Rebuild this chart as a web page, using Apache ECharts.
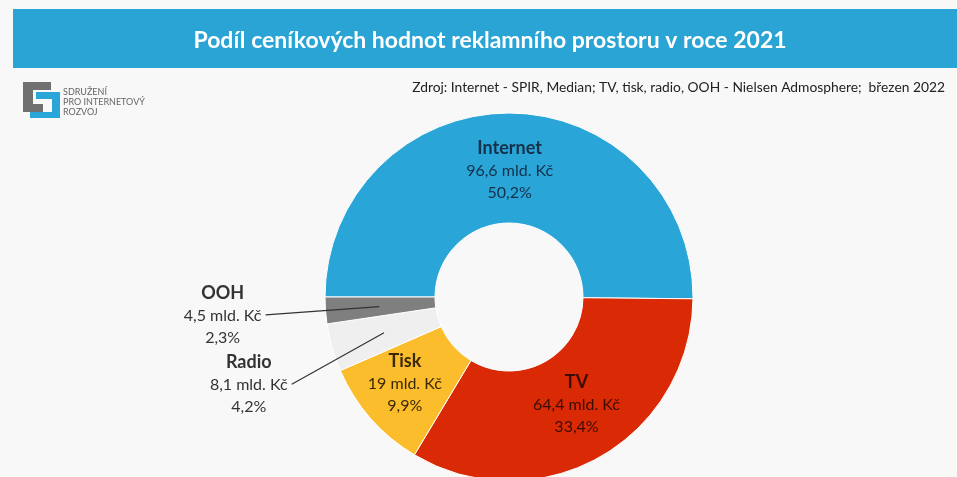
<!DOCTYPE html>
<html>
<head>
<meta charset="utf-8">
<script src="https://cdn.jsdelivr.net/npm/echarts@6/dist/echarts.min.js"></script>
<style>
html,body{margin:0;padding:0;background:#f8f8f8;}
#c{width:957px;height:477px;}
</style>
</head>
<body>
<div id="c"></div>
<script>
const titleText = 'Podíl ceníkových hodnot reklamního prostoru v roce 2021';
const sourceText = 'Zdroj: Internet - SPIR, Median; TV, tisk, radio, OOH - Nielsen Admosphere;  březen 2022';
const categories = ['Internet', 'TV', 'Tisk', 'Radio', 'OOH'];
const valuesBn = [96.6, 64.4, 19, 8.1, 4.5];
const sharesPct = [50.2, 33.4, 9.9, 4.2, 2.3];
const sliceColors = ['#2aa5d8', '#d92a05', '#fbbd2c', '#efefef', '#7f7f7f'];
const textColors = ['#14304a', '#3a0c02', '#3a2905', '#333333', '#333333'];
const outsideLabelled = ['Radio', 'OOH'];
const lineLengths = {Radio: 96, OOH: 114};
const labelShiftY = {Radio: 25, OOH: 0};
const insideOffsets = {Internet: [0, 5], TV: [3, -8], Tisk: [-5, -1]};

const fmt = v => String(v).replace('.', ',');
const labelText = i => '{n|' + categories[i] + '}\n{v|' + fmt(valuesBn[i]) + ' mld. Kč}\n{v|' + fmt(sharesPct[i]) + '%}';

const font = 'Lato, "Open Sans", sans-serif';
function rich(color, width) {
  const n = {fontFamily: font, fontWeight: 'bold', fontSize: 18, color: color, lineHeight: 23};
  const v = {fontFamily: font, fontSize: 16, color: color, lineHeight: 22};
  if (width) { n.width = width; n.align = 'center'; v.width = width; v.align = 'center'; }
  return {n: n, v: v};
}

const mainData = categories.map((c, i) => ({
  name: c,
  value: valuesBn[i],
  itemStyle: {color: sliceColors[i]},
  label: outsideLabelled.includes(c) ? {show: false} : {
    show: true, position: 'inside', formatter: labelText(i), rich: rich(textColors[i]),
    offset: insideOffsets[c]
  }
}));

const helperData = categories.map((c, i) => ({
  name: c,
  value: valuesBn[i],
  itemStyle: {color: 'rgba(0,0,0,0)'},
  label: outsideLabelled.includes(c) ? {
    show: true, position: 'outside', formatter: labelText(i), rich: rich(textColors[i], 80),
    distanceToLabelLine: 3
  } : {show: false},
  labelLine: outsideLabelled.includes(c) ? {show: true, length: lineLengths[c], length2: 0,
    lineStyle: {color: '#333', width: 1.2}} : {show: false}
}));

const chart = echarts.init(document.getElementById('c'), null, {renderer: 'canvas'});
chart.setOption({
  backgroundColor: '#f8f8f8',
  animation: false,
  graphic: [
    {type: 'rect', left: 13, top: 9, shape: {width: 944, height: 59}, style: {fill: '#29a4d4'}},
    {type: 'text', x: 490, y: 41, style: {text: titleText, fill: '#ffffff', font: 'bold 23px ' + font, textAlign: 'center', textVerticalAlign: 'middle'}},
    {type: 'text', x: 945, y: 88, style: {text: sourceText, fill: '#222222', font: '13.8px ' + font, textAlign: 'right', textVerticalAlign: 'middle'}},
    {type: 'polygon', shape: {points: [[23,82],[51,82],[51,90],[33,90],[33,104],[43,104],[43,112],[23,112]]}, style: {fill: '#707070'}},
    {type: 'polygon', shape: {points: [[36,92],[60,92],[60,118],[30,118],[30,112],[52,112],[52,99],[36,99]]}, style: {fill: '#2aa5d8'}},
    {type: 'text', x: 63, y: 92, style: {text: 'SDRUŽENÍ', fill: '#666', font: '9px ' + font, textVerticalAlign: 'middle'}},
    {type: 'text', x: 63, y: 102, style: {text: 'PRO INTERNETOVÝ', fill: '#666', font: '9px ' + font, textVerticalAlign: 'middle'}},
    {type: 'text', x: 63, y: 112, style: {text: 'ROZVOJ', fill: '#666', font: '9px ' + font, textVerticalAlign: 'middle'}}
  ],
  series: [
    {
      type: 'pie', z: 2, center: [509, 297], radius: [74, 184], startAngle: 180, clockwise: true,
      avoidLabelOverlap: false, silent: true,
      itemStyle: {borderColor: '#ffffff', borderWidth: 1},
      labelLine: {show: false},
      data: mainData
    },
    {
      type: 'pie', z: 6, center: [509, 297], radius: [74, 130], startAngle: 180, clockwise: true,
      avoidLabelOverlap: false, silent: true,
      labelLayout: function (p) {
        const dy = labelShiftY[categories[p.dataIndex]] || 0;
        const pts = p.labelLinePoints;
        if (!dy || !pts || !pts.length) return {};
        const last = pts[pts.length - 1];
        const end = [last[0], last[1] + dy];
        return {dy: dy, labelLinePoints: [pts[0], end, end]};
      },
      data: helperData
    }
  ]
});
</script>
</body>
</html>
